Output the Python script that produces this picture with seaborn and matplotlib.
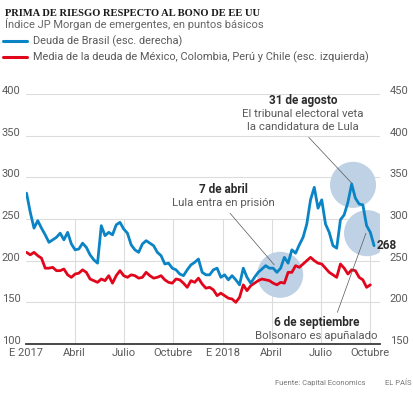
import matplotlib
matplotlib.use("Agg")
import matplotlib.pyplot as plt
import matplotlib.transforms as mtransforms
from matplotlib.lines import Line2D
import seaborn as sns
import pandas as pd

# --- datos (lectura aproximada del gráfico) ---
brasil = [331, 308, 289, 298, 289, 281, 272, 275, 278, 283,
          275, 284, 270, 263, 264, 271, 266, 257, 251, 247,
          292, 280, 284, 281, 293, 296, 288, 283, 269, 263,
          260, 270, 274, 271, 268, 260, 256, 246, 247, 241,
          239, 234, 232, 239, 245, 248, 252, 236, 233, 233,
          239, 241, 230, 233, 227, 232, 227, 221, 241, 230,
          223, 230, 236, 240, 244, 241, 241, 236, 241, 254,
          247, 263, 259, 269, 278, 294, 323, 338, 313, 323,
          294, 284, 268, 265, 299, 305, 320, 342, 325, 318,
          317, 292, 284, 268]
media_latam = [210, 207, 210, 206, 203, 191, 191, 192, 188, 188,
               190, 183, 180, 184, 185, 189, 186, 178, 176, 174,
               178, 176, 182, 173, 182, 188, 182, 180, 183, 182,
               179, 180, 186, 182, 179, 180, 182, 177, 174, 173,
               178, 177, 173, 168, 176, 174, 179, 172, 167, 168,
               165, 158, 161, 158, 155, 154, 150, 156, 171, 164,
               170, 173, 176, 178, 177, 176, 173, 171, 174, 173,
               186, 186, 194, 192, 196, 200, 204, 200, 197, 196,
               191, 186, 183, 180, 196, 191, 184, 189, 188, 180,
               177, 168, 171]
fechas = pd.date_range("2017-01-02", "2018-10-08", periods=len(brasil))

meses = pd.to_datetime(["2017-01-01", "2017-04-01", "2017-07-01", "2017-10-01",
                        "2018-01-01", "2018-04-01", "2018-07-01", "2018-10-01"])
etiquetas_mes = ["E 2017", "Abril", "Julio", "Octubre", "E 2018", "Abril", "Julio", "Octubre"]

df_br = pd.DataFrame({"fecha": fechas, "valor": brasil})
df_la = pd.DataFrame({"fecha": fechas[:len(media_latam)], "valor": media_latam})

AZUL = "#0a84c4"
ROJO = "#e2061c"
GRIS = "#5a5a5a"
SANS = "Roboto"

sns.set_theme(style="white")
plt.rcParams["font.family"] = [SANS, "DejaVu Sans"]

fig = plt.figure(figsize=(4.14, 3.97), dpi=100)
fig.patch.set_facecolor("white")
ax = fig.add_axes([26 / 414, 53 / 397, 354 / 414, 250 / 397])
ax2 = ax.twinx()

# rejilla
for v in [150, 200, 250, 300, 350, 400]:
    ax.axhline(v, color="#dcdcdc", lw=0.8, zorder=0)
ax.vlines(meses[1:], 100, 250, color="#dcdcdc", lw=0.8, zorder=0)

# círculos de los eventos
ax.scatter(pd.to_datetime(["2018-04-17", "2018-08-30", "2018-09-25"]), [183, 291, 233],
           s=1100, color="#bfd2e5", edgecolor="none", zorder=1)

sns.lineplot(data=df_la, x="fecha", y="valor", ax=ax, color=ROJO, lw=2.0, zorder=3)
sns.lineplot(data=df_br, x="fecha", y="valor", ax=ax2, color=AZUL, lw=2.0, zorder=3)

xmin, xmax = pd.Timestamp("2017-01-01"), pd.Timestamp("2018-10-19")
ax.set_xlim(xmin, xmax)
ax.set_ylim(100, 400)
ax2.set_ylim(150, 450)

for a in (ax, ax2):
    a.set_xlabel("")
    a.set_ylabel("")
    for s in a.spines.values():
        s.set_visible(False)
ax.spines["bottom"].set_visible(True)
ax.spines["bottom"].set_color("#3a3a3a")
ax.spines["bottom"].set_linewidth(1.3)

ax.set_xticks(meses)
ax.set_xticklabels(etiquetas_mes)
ax.set_yticks([100, 150, 200, 250, 300, 350, 400])
ax2.set_yticks([150, 200, 250, 300, 350, 400, 450])
ax.tick_params(axis="x", length=0, pad=3, labelsize=8, labelcolor=GRIS)
ax.tick_params(axis="y", length=0, pad=4, labelsize=8, labelcolor=GRIS)
ax2.tick_params(axis="y", length=0, pad=7, labelsize=8, labelcolor=GRIS)

# etiquetas de eje un poco por encima de la línea
up = mtransforms.ScaledTranslation(0, 4 / 100, fig.dpi_scale_trans)
for lab in ax.get_yticklabels() + ax2.get_yticklabels():
    lab.set_transform(lab.get_transform() + up)

# valor final
ax2.annotate("268", xy=(fechas[-1], brasil[-1]), xytext=(2, 0), textcoords="offset points",
             ha="left", va="center", fontsize=8.5, fontweight="bold", color="#2b2b2b")

# anotaciones (una línea cada 13-14 px)
def nota(x, y, titulo, lineas):
    ax.text(pd.Timestamp(x), y, titulo, ha="center", va="center", fontsize=8.5,
            fontweight="bold", color="#2b2b2b", zorder=5)
    for i, t in enumerate(lineas):
        ax.text(pd.Timestamp(x), y - 16 * (i + 1), t, ha="center", va="center",
                fontsize=8.2, color=GRIS, zorder=5)

nota("2018-01-01", 285, "7 de abril", ["Lula entra en prisión"])
nota("2018-05-29", 392, "31 de agosto", ["El tribunal electoral veta", "la candidatura de Lula"])
nota("2018-06-23", 126, "6 de septiembre", ["Bolsonaro es apuñalado"])

for (x0, y0), (x1, y1) in [(("2018-01-14", 257), ("2018-04-06", 195)),
                           (("2018-06-09", 348), ("2018-08-29", 292)),
                           (("2018-08-01", 138), ("2018-09-23", 233))]:
    ax.plot([pd.Timestamp(x0), pd.Timestamp(x1)], [y0, y1], color="#555555", lw=0.5, zorder=4)

# título, subtítulo y leyenda
fig.text(5 / 414, 1 - 13 / 397, "PRIMA DE RIESGO RESPECTO AL BONO DE EE UU",
         family="Liberation Serif", fontweight="bold", fontsize=7.6, color="#1a1a1a", va="center")
fig.text(5 / 414, 1 - 24 / 397, "Índice JP Morgan de emergentes, en puntos básicos",
         fontsize=8.0, color="#666666", va="center")
for yy, col, txt in [(41, AZUL, "Deuda de Brasil (esc. derecha)"),
                     (57, ROJO, "Media de la deuda de México, Colombia, Perú y Chile (esc. izquierda)")]:
    fig.add_artist(Line2D([3 / 414, 27 / 414], [1 - yy / 397] * 2, color=col, lw=2.2))
    fig.text(33 / 414, 1 - yy / 397, txt, fontsize=7.9, color=GRIS, va="center")

fig.text(366 / 414, 1 - 383 / 397, "Fuente: Capital Economics", fontsize=5.5,
         color="#777777", ha="right", va="center")
fig.text(412 / 414, 1 - 383 / 397, "EL PAÍS", fontsize=5.5, color="#777777",
         ha="right", va="center")

fig.savefig("out.png", dpi=100)
